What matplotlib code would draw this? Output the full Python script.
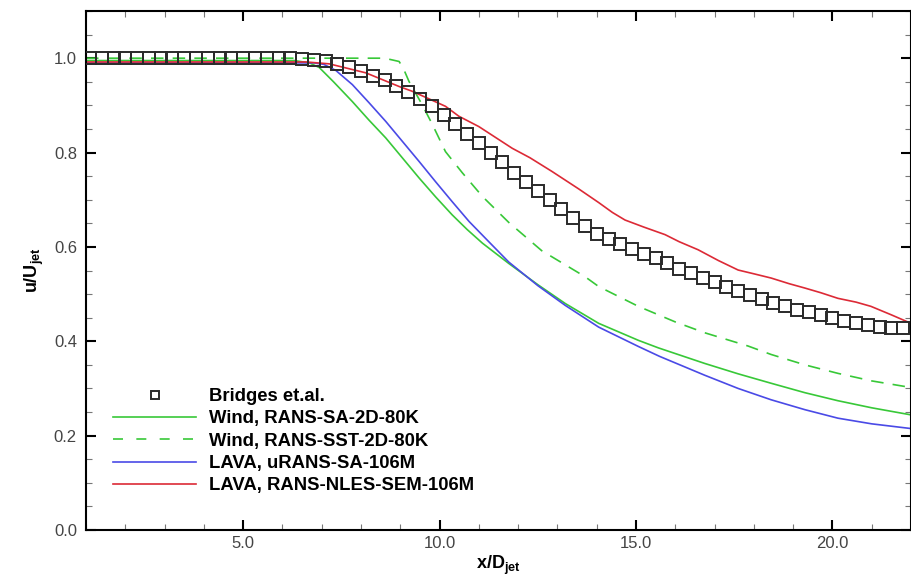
import numpy as np
import matplotlib
matplotlib.use("Agg")
import matplotlib.pyplot as plt
from matplotlib.ticker import MultipleLocator, FormatStrFormatter

plt.rcParams['font.family'] = ['Liberation Sans', 'DejaVu Sans']
plt.rcParams['mathtext.fontset'] = 'custom'
plt.rcParams['mathtext.rm'] = 'Liberation Sans'
plt.rcParams['mathtext.bf'] = 'Liberation Sans:bold'

# Experimental data (Bridges et.al.)
exp_x = [1.1, 1.4, 1.7, 2.0, 2.3, 2.6, 2.9, 3.2, 3.5, 3.8, 4.1, 4.4, 4.7, 5.0,
         5.3, 5.6, 5.9, 6.2, 6.5, 6.8, 7.1, 7.4, 7.7, 8.0, 8.3, 8.6, 8.9, 9.2,
         9.5, 9.8, 10.1, 10.4, 10.7, 11.0, 11.3, 11.6, 11.9, 12.2, 12.5, 12.8,
         13.1, 13.4, 13.7, 14.0, 14.3, 14.6, 14.9, 15.2, 15.5, 15.8, 16.1, 16.4,
         16.7, 17.0, 17.3, 17.6, 17.9, 18.2, 18.5, 18.8, 19.1, 19.4, 19.7, 20.0,
         20.3, 20.6, 20.9, 21.2, 21.5, 21.8]
exp_y = [1.0, 1.0, 1.0, 1.0, 1.0, 1.0, 1.0, 1.0, 1.0, 1.0, 1.0, 1.0, 1.0, 1.0,
         1.0, 1.0, 1.0, 1.0, 0.999, 0.997, 0.993, 0.988, 0.981, 0.972, 0.963,
         0.954, 0.941, 0.928, 0.913, 0.898, 0.879, 0.861, 0.840, 0.820, 0.800,
         0.779, 0.757, 0.737, 0.718, 0.700, 0.680, 0.662, 0.645, 0.628, 0.617,
         0.607, 0.596, 0.586, 0.576, 0.565, 0.554, 0.545, 0.535, 0.525, 0.515,
         0.507, 0.498, 0.489, 0.481, 0.474, 0.467, 0.461, 0.455, 0.449, 0.443,
         0.438, 0.434, 0.431, 0.429, 0.428]

# Wind, RANS-SA-2D-80K
wsa_x = [1.0, 4.0, 6.3, 6.69, 6.94, 7.3, 7.78, 8.2, 8.63, 9.05, 9.48, 9.9,
         10.32, 10.7, 11.09, 11.76, 12.5, 13.2, 14.05, 15.06, 15.57, 16.75,
         17.6, 18.44, 19.3, 20.14, 21.0, 22.0]
wsa_y = [0.995, 0.995, 0.995, 0.990, 0.980, 0.950, 0.908, 0.869, 0.831, 0.789,
         0.746, 0.706, 0.668, 0.637, 0.608, 0.565, 0.520, 0.480, 0.438, 0.402,
         0.386, 0.353, 0.331, 0.311, 0.291, 0.274, 0.259, 0.244]

# Wind, RANS-SST-2D-80K
wsst_x = [1.0, 4.0, 7.0, 8.6, 8.97, 9.08, 9.22, 9.56, 9.82, 10.15, 10.58,
          11.09, 11.76, 12.6, 13.7, 14.05, 15.06, 16.0, 16.75, 17.85, 18.44,
          19.3, 20.14, 21.0, 22.0]
wsst_y = [1.0, 1.0, 1.0, 1.0, 0.993, 0.978, 0.951, 0.901, 0.859, 0.802, 0.757,
          0.707, 0.652, 0.592, 0.537, 0.516, 0.474, 0.441, 0.418, 0.390, 0.372,
          0.350, 0.332, 0.316, 0.302]

# LAVA, uRANS-SA-106M
lsa_x = [1.0, 4.0, 6.8, 7.05, 7.36, 7.78, 8.2, 8.63, 9.05, 9.48, 9.9, 10.32,
         10.75, 11.3, 11.76, 12.5, 13.2, 14.05, 15.06, 15.6, 16.75, 17.6,
         18.44, 19.3, 20.14, 21.0, 22.0]
lsa_y = [0.99, 0.99, 0.99, 0.987, 0.974, 0.944, 0.906, 0.866, 0.824, 0.781,
         0.738, 0.696, 0.654, 0.607, 0.568, 0.518, 0.476, 0.430, 0.389, 0.368,
         0.328, 0.300, 0.276, 0.255, 0.237, 0.225, 0.215]

# LAVA, RANS-NLES-SEM-106M
les_x = [1.0, 4.0, 6.6, 7.19, 8.12, 8.97, 9.3, 10.15, 10.49, 11.0, 11.85, 12.3,
         12.86, 13.54, 14.05, 14.4, 14.72, 15.2, 15.74, 16.1, 16.58, 17.1,
         17.6, 18.0, 18.44, 18.9, 19.29, 19.7, 20.14, 20.6, 20.98, 21.5, 22.0]
les_y = [0.992, 0.992, 0.992, 0.988, 0.969, 0.940, 0.930, 0.898, 0.877, 0.855,
         0.809, 0.789, 0.760, 0.723, 0.694, 0.673, 0.657, 0.642, 0.626, 0.611,
         0.594, 0.571, 0.551, 0.543, 0.534, 0.522, 0.513, 0.503, 0.491, 0.483,
         0.474, 0.456, 0.438]

labels = ['Bridges et.al.', 'Wind, RANS-SA-2D-80K', 'Wind, RANS-SST-2D-80K',
          'LAVA, uRANS-SA-106M', 'LAVA, RANS-NLES-SEM-106M']

green = '#38c838'
blue = '#4a4ae6'
red = '#dc2a36'

fig = plt.figure(figsize=(9.11, 5.77), dpi=100)
ax = fig.add_axes([86/911, 47/577, 1 - 86/911, (530-11)/577])

ax.plot(exp_x, exp_y, linestyle='none', marker='s', markersize=8,
        markerfacecolor='none', markeredgecolor='#2a2a2a', markeredgewidth=1.4,
        label=labels[0], zorder=5)
ax.plot(wsa_x, wsa_y, color=green, lw=1.2, label=labels[1])
ax.plot(wsst_x, wsst_y, color=green, lw=1.2, ls=(0, (7.5, 5.5)), label=labels[2])
ax.plot(lsa_x, lsa_y, color=blue, lw=1.2, label=labels[3])
ax.plot(les_x, les_y, color=red, lw=1.2, label=labels[4])

ax.set_xlim(1.0, 22.0)
ax.set_ylim(0.0, 1.1)
ax.xaxis.set_major_locator(MultipleLocator(5))
ax.xaxis.set_minor_locator(MultipleLocator(1))
ax.yaxis.set_major_locator(MultipleLocator(0.2))
ax.yaxis.set_minor_locator(MultipleLocator(0.05))
ax.xaxis.set_major_formatter(FormatStrFormatter('%.1f'))
ax.yaxis.set_major_formatter(FormatStrFormatter('%.1f'))
ax.tick_params(which='both', direction='in', top=True, right=True,
               labelsize=12, labelcolor='#444444')
ax.tick_params(which='major', length=7, width=1.5)
ax.tick_params(axis='x', which='major', pad=4)
ax.tick_params(axis='y', which='major', pad=6.5)
ax.tick_params(which='minor', length=4, width=0.8, color='#777777')
for s in ax.spines.values():
    s.set_linewidth(1.5)

ax.set_xlabel(r'x/D$_{\mathbf{jet}}$', fontsize=13, fontweight='bold', labelpad=2)
ax.set_ylabel(r'u/U$_{\mathbf{jet}}$', fontsize=13, fontweight='bold', labelpad=6)

leg = ax.legend(loc='upper left', bbox_to_anchor=(27/825, 142/519),
                frameon=False, borderaxespad=0, borderpad=0,
                prop={'weight': 'bold', 'size': 13.3}, handlelength=4.5,
                labelspacing=0.29, handletextpad=0.7)
leg.legend_handles[0].set_markersize(6)
leg.legend_handles[2].set_dashes([6, 8])

fig.savefig('out.png', dpi=100)
